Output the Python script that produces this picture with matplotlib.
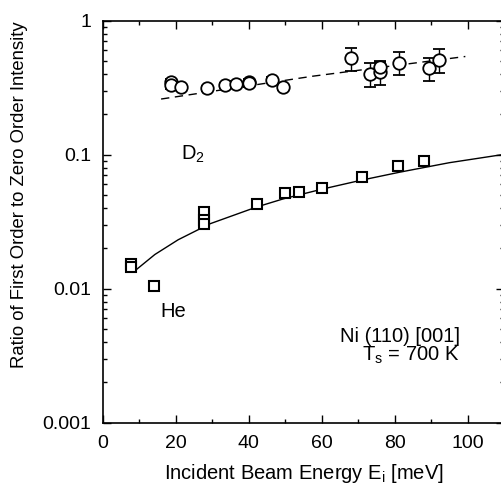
import matplotlib
matplotlib.use("Agg")
import matplotlib.pyplot as plt
from matplotlib.ticker import MultipleLocator, LogLocator, NullFormatter, FixedFormatter, FixedLocator

plt.rcParams['font.family'] = ['Liberation Sans', 'DejaVu Sans']

# D2 data (circles)
d2_energy = [18.6, 18.6, 21.5, 28.5, 33.5, 36.5, 40.0, 40.0, 46.5, 49.5, 68.0, 73.3, 76.0, 76.0, 81.3, 89.4, 92.3]
d2_ratio = [0.35, 0.331, 0.32, 0.313, 0.33, 0.337, 0.35, 0.34, 0.36, 0.318, 0.524, 0.40, 0.417, 0.454, 0.486, 0.441, 0.51]
d2_err = [0.02, 0.02, 0.015, 0.015, 0.015, 0.015, 0.02, 0.02, 0.02, 0.015, 0.10, 0.08, 0.085, 0.04, 0.095, 0.088, 0.10]

# He data (squares)
he_energy = [7.8, 7.8, 14.0, 27.8, 27.8, 27.8, 42.4, 50.0, 53.9, 60.1, 71.0, 81.0, 88.2]
he_ratio = [0.0152, 0.0146, 0.0105, 0.0376, 0.0326, 0.0304, 0.0429, 0.0515, 0.053, 0.0561, 0.0685, 0.0828, 0.0902]
he_err = [0.0006, 0.0006, 0.0004, 0.0015, 0.0013, 0.0012, 0.002, 0.002, 0.002, 0.0025, 0.003, 0.003, 0.003]

# fit curves
d2_fit_energy = [16.0, 57.6, 99.4]
d2_fit_ratio = [0.26, 0.385, 0.54]
he_fit_energy = [9.1, 14.3, 20.7, 29.4, 42.2, 49.5, 60.0, 71.0, 81.5, 95.0, 110.0]
he_fit_ratio = [0.0138, 0.0180, 0.0232, 0.0305, 0.0407, 0.0468, 0.0552, 0.0646, 0.0741, 0.0871, 0.1005]

fig = plt.figure(figsize=(5.02, 4.91), dpi=100)
ax = fig.add_axes([0.2046, 0.139, 0.7994, 0.819])

ax.plot(d2_fit_energy, d2_fit_ratio, color='black', lw=1.0, dashes=(6, 4))
ax.plot(he_fit_energy, he_fit_ratio, color='black', lw=1.0)

ax.errorbar(d2_energy, d2_ratio, yerr=d2_err, fmt='o', ms=9, mfc='white', mec='black',
            mew=1.3, ecolor='black', elinewidth=1.0, capsize=4, capthick=1.0)
ax.errorbar(he_energy, he_ratio, yerr=he_err, fmt='s', ms=7.5, mfc='white', mec='black',
            mew=1.5, ecolor='black', elinewidth=1.0, capsize=4, capthick=1.5)

ax.set_yscale('log')
ax.set_xlim(0, 110)
ax.set_ylim(0.001, 1)

ax.xaxis.set_major_locator(MultipleLocator(20))
ax.xaxis.set_minor_locator(MultipleLocator(10))
ax.yaxis.set_major_locator(FixedLocator([0.001, 0.01, 0.1, 1]))
ax.yaxis.set_major_formatter(FixedFormatter(['0.001', '0.01', '0.1', '1']))
ax.yaxis.set_minor_locator(LogLocator(base=10, subs=range(2, 10)))
ax.yaxis.set_minor_formatter(NullFormatter())

ax.tick_params(which='both', direction='in', top=True, right=True, labelsize=14, width=1.0)
ax.tick_params(which='major', length=6)
ax.tick_params(which='minor', length=3)
ax.tick_params(axis='x', pad=9)
ax.tick_params(axis='y', pad=8)
for s in ax.spines.values():
    s.set_linewidth(1.2)

ax.set_xlabel('Incident Beam Energy E$_\\mathregular{i}$ [meV]', fontsize=14.5, labelpad=7)
ax.set_ylabel('Ratio of First Order to Zero Order Intensity', fontsize=13.3)
ax.yaxis.set_label_coords(-0.185, 0.567)

ax.text(21.5, 0.1, 'D$_\\mathregular{2}$', fontsize=14.5, va='center', ha='left')
ax.text(15.7, 0.00676, 'He', fontsize=14.5, va='center', ha='left')
ax.text(65.1, 0.0044, 'Ni (110) [001]', fontsize=14.5, va='center', ha='left')
ax.text(71.0, 0.00317, 'T$_\\mathregular{s}$ = 700 K', fontsize=14.5, va='center', ha='left')

fig.savefig('out.png', dpi=100)
